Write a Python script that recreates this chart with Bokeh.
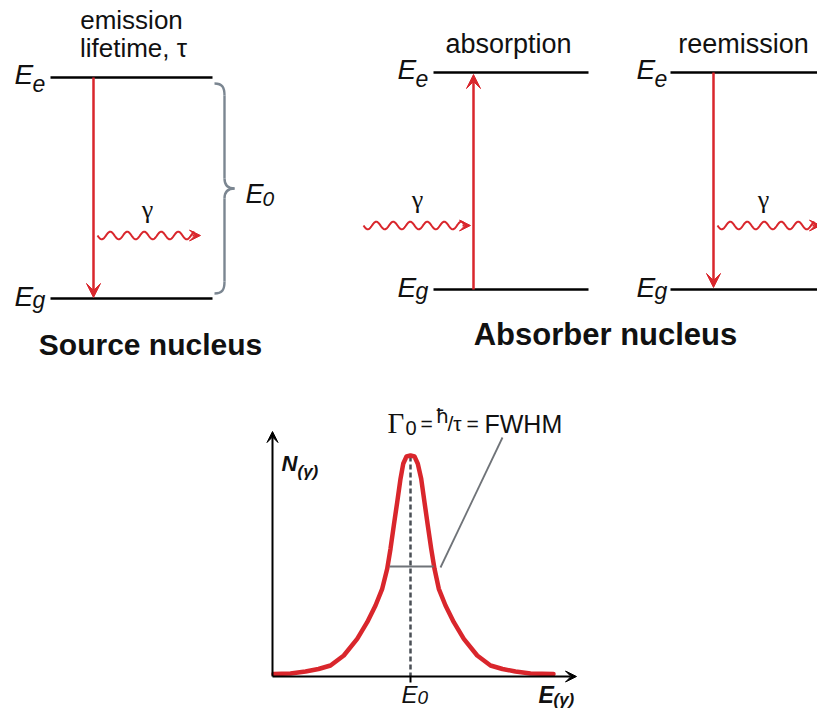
import numpy as np
from bokeh.plotting import figure
from bokeh.models import Range1d, Arrow, VeeHead
from bokeh.core.properties import value
from bokeh.embed import file_html
from bokeh.resources import INLINE

# ---------------- data ----------------
# energy level diagrams: [x_start, x_end, y_Ee, y_Eg]
source_level = [50, 212, 77, 298]
absorb_level = [433, 588, 72, 289]
reemit_level = [670, 830, 72, 289]
# transition arrows: x, y_from, y_to
transitions_x = [93, 473, 713]
transitions_from = [77, 289, 72]
transitions_to = [297, 74, 287]
# photon waves: x_start, x_end, y
wave_x0 = [97, 363, 717]
wave_x1 = [200, 470, 820]
wave_y = [235, 225, 225]
gamma_label_x = [147, 417, 763]
gamma_label_y = [218, 208, 208]

# emission line profile
curve_x = [273, 290, 305, 318, 330, 343.3, 356.7, 366.7, 375, 381.7, 386.7, 390, 393.3, 396.7,
           400, 402.7, 406, 410, 414, 417.3, 420.7, 424, 427.3, 430.7, 434, 438.3, 445, 453.3,
           463.3, 476.7, 490, 502, 515, 530, 553]
curve_y = [673.5, 673, 671, 668.5, 665, 655, 638.3, 621.7, 605, 588.3, 568.3, 548.3, 525, 501.7,
           478.3, 463.3, 456, 455, 456, 463.3, 478.3, 501.7, 525, 548.3, 568.3, 588.3, 605, 621.7,
           638.3, 655, 665, 668.5, 671, 673, 673.5]
peak_x = 410
fwhm_x = [389, 433]
fwhm_y = 566
axis_x0, axis_y0 = 272, 676
axis_x_end, axis_y_end = 576, 431

RED = "#d9262c"
GRAY = "#7b8691"
TEXT_DY = -9  # baseline correction

p = figure(width=817, height=711, x_range=Range1d(0, 817), y_range=Range1d(711, 0),
           output_backend="svg", toolbar_location=None, min_border=0)
p.axis.visible = False
p.grid.visible = False
p.outline_line_color = None
p.background_fill_color = "white"


def txt(x, y, s, size, style="normal", font="Liberation Sans", align="left", color="#111111"):
    p.text(x=[x], y=[y + TEXT_DY], text=[s], text_font=value(font), text_font_size=f"{size}px",
           text_font_style=style, text_align=align, text_baseline="alphabetic", text_color=color)


# energy levels
for lv in (source_level, absorb_level, reemit_level):
    p.segment(x0=[lv[0], lv[0]], x1=[lv[1], lv[1]], y0=[lv[2], lv[3]], y1=[lv[2], lv[3]],
              line_color="black", line_width=2.5)

# level labels
for (lx, ey, gy) in [(14, 83, 305), (397, 78, 296), (636, 78, 296)]:
    txt(lx, ey, "E", 28, "italic")
    txt(lx + 18, ey + 9, "e", 23, "italic")
    txt(lx, gy, "E", 28, "italic")
    txt(lx + 18, gy + 3, "g", 23, "italic")

# transition arrows
for x, y0, y1 in zip(transitions_x, transitions_from, transitions_to):
    p.add_layout(Arrow(x_start=x, y_start=y0, x_end=x, y_end=y1, line_color=RED, line_width=2.5,
                       end=VeeHead(size=14, fill_color=RED, line_color=RED, line_width=1)))

# photon waves
for x0, x1, yc in zip(wave_x0, wave_x1, wave_y):
    xs = np.linspace(x0, x1 - 6, 200)
    ys = yc + 3.8 * np.sin(2 * np.pi * (xs - x0) / 17.0)
    p.line(xs, ys, line_color=RED, line_width=2)
    p.add_layout(Arrow(x_start=x1 - 8, y_start=yc, x_end=x1, y_end=yc, line_color=RED, line_width=2,
                       end=VeeHead(size=11, fill_color=RED, line_color=RED, line_width=1)))
for gx, gy in zip(gamma_label_x, gamma_label_y):
    txt(gx, gy, "γ", 26, "normal", "Liberation Serif", "center")

# curly brace
bx0, bx1, btip = 214, 224, 234
bt, bm, bb = 83, 188, 293
p.bezier(x0=[bx0, bx1, btip, bx1], y0=[bt, bm - 10, bm, bb - 12],
         x1=[bx1, btip, bx1, bx0], y1=[bt + 12, bm, bm + 10, bb],
         cx0=[bx1 - 2, bx1, btip - 6, bx1], cy0=[bt, bm - 3, bm, bb - 4],
         cx1=[bx1, btip - 6, bx1, bx1 - 2], cy1=[bt + 4, bm, bm + 3, bb],
         line_color=GRAY, line_width=2.4)
p.segment(x0=[bx1, bx1], x1=[bx1, bx1], y0=[bt + 12, bm + 10], y1=[bm - 10, bb - 12],
          line_color=GRAY, line_width=2.4)
txt(245, 202, "E", 27, "italic")
txt(262, 207, "0", 21, "italic")

# top texts
txt(131, 28, "emission", 26, align="center")
txt(133, 56, "lifetime, τ", 26, align="center")
txt(508, 52, "absorption", 27, align="center")
txt(743, 52, "reemission", 27, align="center")
txt(150, 353, "Source nucleus", 30, "bold", align="center")
txt(605, 343, "Absorber nucleus", 31, "bold", align="center")

# bottom plot: axes
p.add_layout(Arrow(x_start=axis_x0, y_start=axis_y0, x_end=axis_x0, y_end=axis_y_end, line_color="black",
                   line_width=2, end=VeeHead(size=11, fill_color="black", line_color="black", line_width=1)))
p.add_layout(Arrow(x_start=axis_x0, y_start=axis_y0, x_end=axis_x_end, y_end=axis_y0, line_color="black",
                   line_width=2, end=VeeHead(size=11, fill_color="black", line_color="black", line_width=1)))
# dashed centre line + tick
p.segment(x0=[peak_x], x1=[peak_x], y0=[456], y1=[axis_y0], line_color="#4a4f55", line_width=2.5,
          line_dash="5 3")
p.segment(x0=[peak_x], x1=[peak_x], y0=[axis_y0], y1=[axis_y0 + 6], line_color="black", line_width=2)
# curve
p.line(curve_x, curve_y, line_color=RED, line_width=4.5, line_join="round", line_cap="round")
# FWHM line and leader
p.segment(x0=[fwhm_x[0]], x1=[fwhm_x[1]], y0=[fwhm_y], y1=[fwhm_y], line_color="#6f7378", line_width=2)
p.segment(x0=[440], x1=[502], y0=[567], y1=[437], line_color="#6f7378", line_width=1.8)

# labels of bottom plot
txt(281, 472, "N", 22, "bold italic")
txt(297, 480, "(γ)", 17, "bold italic")
txt(538, 703, "E", 23, "bold italic")
txt(553, 708, "(γ)", 17, "bold italic")
txt(401, 703, "E", 24, "italic")
txt(417, 706, "0", 19, "italic")
txt(387, 431, "Γ", 29, "normal", "Liberation Serif")
txt(405, 436, "0", 20)
txt(420, 432, "=", 21)
txt(435, 424, "ħ", 20, "normal", "DejaVu Sans")
txt(447, 432, "/τ", 21)
txt(466, 432, "=", 21)
txt(484, 432, "FWHM", 25)

open("out.html", "w").write(file_html(p, INLINE))
